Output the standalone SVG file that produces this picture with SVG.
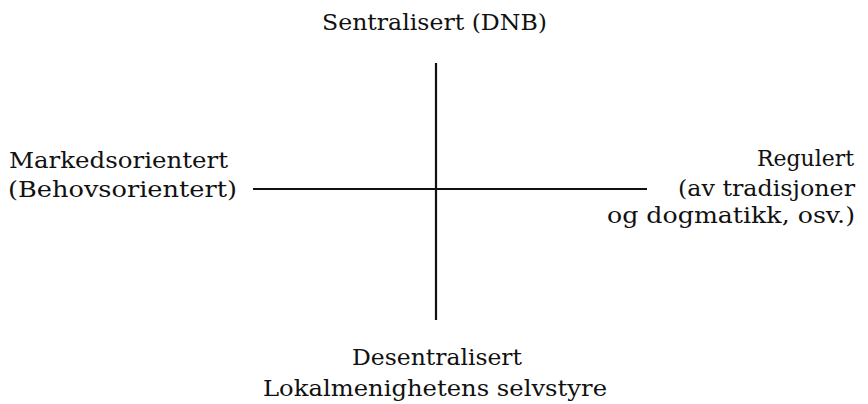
<svg xmlns="http://www.w3.org/2000/svg" width="868" height="404" viewBox="0 0 868 404">
<style>
text{font-family:"DejaVu Serif","Liberation Serif",serif;font-size:22px;fill:#111}
.axis{stroke:#111;stroke-width:2.2;fill:none}
</style>
<rect width="868" height="404" fill="#fff"/>
<g id="connectors">
<line class="axis" x1="436" y1="63" x2="436" y2="320"/>
<line class="axis" x1="253" y1="189" x2="647" y2="189"/>
</g>
<g id="top"><text x="322" y="30" textLength="225" lengthAdjust="spacingAndGlyphs">Sentralisert (DNB)</text></g>
<g id="left">
<text x="9" y="168" textLength="219" lengthAdjust="spacingAndGlyphs">Markedsorientert</text>
<text x="8" y="197" textLength="229" lengthAdjust="spacingAndGlyphs">(Behovsorientert)</text>
</g>
<g id="right">
<text x="757" y="166" textLength="97" lengthAdjust="spacingAndGlyphs">Regulert</text>
<text x="678" y="196" textLength="177" lengthAdjust="spacingAndGlyphs">(av tradisjoner</text>
<text x="607" y="223" textLength="248" lengthAdjust="spacingAndGlyphs">og dogmatikk, osv.)</text>
</g>
<g id="bottom">
<text x="352" y="365" textLength="170" lengthAdjust="spacingAndGlyphs">Desentralisert</text>
<text x="263" y="396" textLength="344" lengthAdjust="spacingAndGlyphs">Lokalmenighetens selvstyre</text>
</g>
</svg>
